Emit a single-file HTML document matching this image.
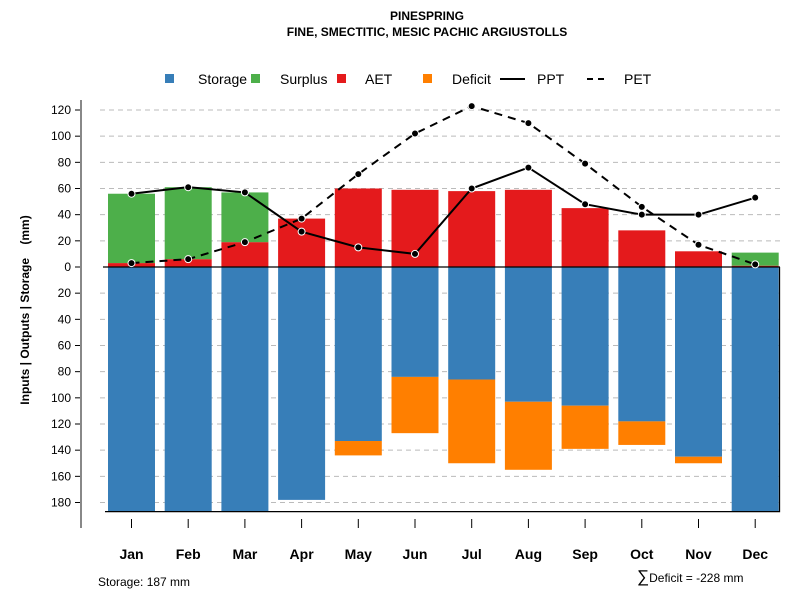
<!DOCTYPE html>
<html><head><meta charset="utf-8"><style>
body{margin:0;background:#fff;}
svg{display:block;font-family:"Liberation Sans",Arial,sans-serif;}
</style></head><body>
<svg id="chart" width="800" height="600" viewBox="0 0 800 600">
<text x="427" y="20" text-anchor="middle" font-size="12" font-weight="bold">PINESPRING</text>
<text x="427" y="36" text-anchor="middle" font-size="12" font-weight="bold">FINE, SMECTITIC, MESIC PACHIC ARGIUSTOLLS</text>
<g font-size="14">
<g><rect x="165" y="74" width="9" height="9" fill="#377eb8"/><text x="198" y="84">Storage</text></g>
<g><rect x="251" y="74" width="9" height="9" fill="#4daf4a"/><text x="280" y="84">Surplus</text></g>
<g><rect x="337" y="74" width="9" height="9" fill="#e41a1c"/><text x="365" y="84">AET</text></g>
<g><rect x="423" y="74" width="9" height="9" fill="#ff7f00"/><text x="452" y="84">Deficit</text></g>
<g><line x1="500" y1="79" x2="525" y2="79" stroke="#000" stroke-width="2"/><text x="537" y="84">PPT</text></g>
<g><line x1="587" y1="79" x2="609" y2="79" stroke="#000" stroke-width="2" stroke-dasharray="6,5"/><text x="624" y="84">PET</text></g>
</g>
<g id="grid"></g>
<g id="bars"></g>
<g id="frame"></g>
<g id="lines"></g>
<g id="yaxis"></g>
<g id="xaxis"></g>
<text transform="translate(29,310) rotate(-90)" text-anchor="middle" font-size="12" font-weight="bold" style="white-space:pre">Inputs | Outputs | Storage    (mm)</text>
<text x="98" y="586" font-size="12">Storage: 187 mm</text>
<text x="637" y="582" font-size="12"><tspan font-size="17">∑</tspan>Deficit = -228 mm</text>
</svg>
<script>
const months=["Jan","Feb","Mar","Apr","May","Jun","Jul","Aug","Sep","Oct","Nov","Dec"];
const storage=[187,187,187,178,133,84,86,103,106,118,145,187];
const deficit=[0,0,0,0,11,43,64,52,33,18,5,0];
const aet=[3,6,19,37,60,59,58,59,45,28,12,1];
const surplus=[53,55,38,0,0,0,0,0,0,0,0,10];
const ppt=[56,61,57,27,15,10,60,76,48,40,40,53];
const pet=[3,6,19,37,71,102,123,110,79,46,17,2];
const yTicks=[120,100,80,60,40,20,0,20,40,60,80,100,120,140,160,180];
const yTickSigns=[1,1,1,1,1,1,1,-1,-1,-1,-1,-1,-1,-1,-1,-1];
const NS="http://www.w3.org/2000/svg";
const y0=267,k=157/120;
function Y(v){return y0-v*k;}
function X(i){return 131.5+i*56.7;}
const bw=47;
function mk(tag,attrs,parent){const e=document.createElementNS(NS,tag);for(const a in attrs)e.setAttribute(a,attrs[a]);document.getElementById(parent).appendChild(e);return e;}
yTicks.forEach((t,i)=>{const v=t*yTickSigns[i];const y=Y(v);
 if(v!==0){const g=mk('line',{x1:100,x2:780,y1:y,y2:y,stroke:'#bbb','stroke-dasharray':'5,4'},'grid');
 
 }
 const tk=mk('line',{x1:75,x2:81,y1:y,y2:y,stroke:'#000'},'yaxis');
 
 
 const tl=mk('text',{x:71,y:y+4,'text-anchor':'end','font-size':'12'},'yaxis');tl.textContent=t;
 
 
});
const ax=mk('line',{x1:81,x2:81,y1:100,y2:528,stroke:'#888','stroke-width':2},'yaxis');


months.forEach((m,i)=>{const x=X(i)-bw/2;
 function bar(v0,v1,c,n){if(v1===v0)return;const ya=Y(Math.max(v0,v1)),yb=Y(Math.min(v0,v1));
  const r=mk('rect',{x:x,y:ya,width:bw,height:yb-ya,fill:c},'bars');
  
  }
 bar(0,-storage[i],'#377eb8','storage');
 bar(-storage[i],-storage[i]-deficit[i],'#ff7f00','deficit');
 bar(0,aet[i],'#e41a1c','aet');
 bar(aet[i],aet[i]+surplus[i],'#4daf4a','surplus');
 const t=mk('line',{x1:X(i),x2:X(i),y1:519,y2:528,stroke:'#000'},'xaxis');
 
 
 const l=mk('text',{x:X(i),y:559,'text-anchor':'middle','font-size':'14','font-weight':'bold'},'xaxis');l.textContent=m;
 
 
});
const f1=mk('line',{x1:103,x2:780,y1:y0,y2:y0,stroke:'#000','stroke-width':1.3},'frame');


const f2=mk('polyline',{points:`105,${Y(-187)} 779.5,${Y(-187)} 779.5,${y0}`,fill:'none',stroke:'#000','stroke-width':1.3},'frame');


function series(arr,dash,n){const p=mk('polyline',{points:arr.map((v,i)=>X(i)+','+Y(v)).join(' '),fill:'none',stroke:'#000','stroke-width':2,'stroke-dasharray':dash},'lines');
 
 
 arr.forEach((v,i)=>{const c=mk('circle',{cx:X(i),cy:Y(v),r:3.5,fill:'#000',stroke:'#fff','stroke-width':1},'lines');
 
 });}
series(pet,'8,6','pet');
series(ppt,'none','ppt');
</script>
</body></html>
